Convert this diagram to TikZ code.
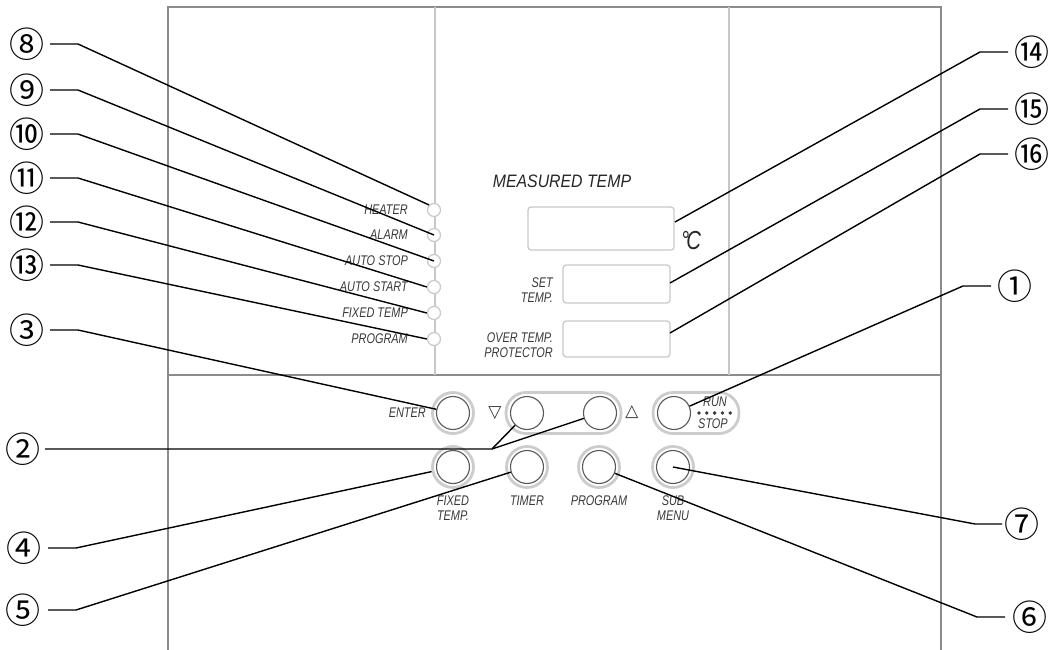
\documentclass[tikz,border=0pt]{standalone}
\usepackage{fontspec}
\setmainfont{Liberation Sans}
\newfontfamily\lbl[FakeStretch=0.78]{Liberation Sans}
\newfontfamily\lblw[FakeStretch=0.88]{Liberation Sans}
\newfontfamily\cjk{Noto Sans CJK JP}
\newfontfamily\dejavu{DejaVu Sans}
\definecolor{framec}{gray}{0.55}
\definecolor{innerc}{gray}{0.78}
\definecolor{txtc}{gray}{0.22}
\definecolor{ringc}{gray}{0.8}
\definecolor{btnc}{gray}{0.35}
\tikzset{
  num/.style={font=\cjk\fontsize{35}{35}\selectfont, inner sep=0pt},
  lead/.style={line width=1.4pt, black},
  lab/.style={font=\lbl\itshape\fontsize{14}{15}\selectfont, text=txtc, inner sep=0pt},
  ledc/.style={circle, draw=ringc, line width=1.3pt, fill=white, minimum size=13pt, inner sep=0pt},
  keyc/.style={circle, draw=btnc, line width=1.1pt, minimum size=33pt, inner sep=0pt},
  haloc/.style={circle, draw=ringc, line width=2.8pt, minimum size=41pt, inner sep=0pt},
  capsc/.style={draw=ringc, line width=2.8pt, rounded corners=20pt, minimum height=41pt, inner sep=0pt},
  dispc/.style={draw=innerc, line width=1.2pt, rounded corners=3pt, inner sep=0pt},
  framel/.style={draw=framec, line width=1.2pt},
  innerl/.style={draw=innerc, line width=1.1pt}
}
\begin{document}
\begin{tikzpicture}[x=1pt,y=-1pt]
\useasboundingbox (0,0) rectangle (1050,650);
% panel frame
\draw[framel] (168,650) -- (168,7) -- (941,7) -- (941,650);
\draw[framel] (168,375) -- (941,375);
\draw[innerl] (435,7) -- (435,375);
\draw[innerl] (729,7) -- (729,375);
% LEDs
\node[ledc] (led1) at (434,210) {};
\node[ledc] (led2) at (434,235) {};
\node[ledc] (led3) at (434,261) {};
\node[ledc] (led4) at (434,287) {};
\node[ledc] (led5) at (434,313) {};
\node[ledc] (led6) at (434,339) {};
\node[lab, anchor=east] (l1) at (408,210) {HEATER};
\node[lab, anchor=east] (l2) at (408,235) {ALARM};
\node[lab, anchor=east] (l3) at (408,261) {AUTO STOP};
\node[lab, anchor=east] (l4) at (408,287) {AUTO START};
\node[lab, anchor=east] (l5) at (408,313) {FIXED TEMP};
\node[lab, anchor=east] (l6) at (408,339) {PROGRAM};
% displays
\node[font=\lblw\itshape\fontsize{18}{18}\selectfont, text=black!85, inner sep=0pt] (mt) at (562,181) {MEASURED TEMP};
\node[dispc, minimum width=146pt, minimum height=43pt] (dMeas) at (601,228.5) {};
\node[dispc, minimum width=107pt, minimum height=38pt] (dSet) at (616.5,284) {};
\node[dispc, minimum width=107pt, minimum height=36pt] (dOver) at (616.5,339) {};
\node[font=\lbl\itshape\fontsize{26}{26}\selectfont, text=black!85, inner sep=0pt] (degc) at (691,241) {°\kern-3pt C};
\node[lab, anchor=east, align=right] (lset) at (553,290) {SET\\TEMP.};
\node[lab, anchor=east, align=right] (lover) at (553,345) {OVER TEMP.\\PROTECTOR};
% buttons
\node[haloc] (hEnter) at (453,413) {};
\node[capsc, minimum width=115pt] (capUD) at (563.5,413) {};
\node[capsc, minimum width=86pt] (capRun) at (696,413) {};
\node[haloc] (hFixed) at (453,467) {};
\node[haloc] (hTimer) at (527,467) {};
\node[haloc] (hProg) at (599,467) {};
\node[haloc] (hSub) at (673,467) {};
\node[keyc] (bEnter) at (453,413) {};
\node[keyc] (bDown) at (527,413) {};
\node[keyc] (bUp) at (600,413) {};
\node[keyc] (bRun) at (674,413) {};
\node[keyc] (bFixed) at (453,467) {};
\node[keyc] (bTimer) at (527,467) {};
\node[keyc] (bProg) at (599,467) {};
\node[keyc] (bSub) at (673,467) {};
\node[font=\dejavu\fontsize{17}{17}\selectfont, text=txtc, inner sep=0pt] (tDown) at (495,413) {▽};
\node[font=\dejavu\fontsize{17}{17}\selectfont, text=txtc, inner sep=0pt] (tUp) at (632,412) {△};
\node[lab, anchor=east] (lEnter) at (426,413) {ENTER};
\node[lab] (lRun) at (715,402) {RUN};
\node[lab] (lStop) at (713,424) {STOP};
\foreach \i in {0,...,4} \fill[txtc] (699+7.8*\i,413) circle (1.9pt);
\node[lab, align=center] (lFixed) at (453,508) {FIXED\\TEMP.};
\node[lab] (lTimer) at (527,501) {TIMER};
\node[lab] (lProg) at (599,501) {PROGRAM};
\node[lab, align=center] (lSub) at (673,508) {SUB\\MENU};
% callout numbers
\node[num] (n8) at (27,44) {⑧};
\node[num] (n9) at (27,90) {⑨};
\node[num] (n10) at (27,134) {⑩};
\node[num] (n11) at (27,178) {⑪};
\node[num] (n12) at (27,222) {⑫};
\node[num] (n13) at (27,265) {⑬};
\node[num] (n3) at (27,330) {③};
\node[num] (n2) at (23,449) {②};
\node[num] (n4) at (24,548) {④};
\node[num] (n5) at (23,610) {⑤};
\node[num] (n14) at (1032,52) {⑭};
\node[num] (n15) at (1032,109) {⑮};
\node[num] (n16) at (1032,154) {⑯};
\node[num] (n1) at (1015,286) {①};
\node[num] (n7) at (1022,524) {⑦};
\node[num] (n6) at (1030,617) {⑥};
% leader coordinates
\foreach \n/\y in {8/44,9/90,10/134,11/178,12/222,13/265,3/330}{
  \coordinate (s\n) at (50,\y); \coordinate (k\n) at (78,\y);}
\coordinate (s2) at (45,449); \coordinate (k2) at (492,449);
\coordinate (s4) at (48,548); \coordinate (k4) at (76,548);
\coordinate (s5) at (48,610); \coordinate (k5) at (76,610);
\coordinate (s14) at (1008,52); \coordinate (k14) at (980,52);
\coordinate (s15) at (1008,109); \coordinate (k15) at (980,109);
\coordinate (s16) at (1008,154); \coordinate (k16) at (980,154);
\coordinate (s1) at (991,286); \coordinate (k1) at (963,286);
\coordinate (s7) at (1002,524); \coordinate (k7) at (975,524);
\coordinate (s6) at (1005,617); \coordinate (k6) at (977,617);
\coordinate (t14) at (675,222);
\coordinate (t15) at (670,283);
\coordinate (t16) at (670,333);
% leaders
\draw[lead] (s8) -- (k8) -- (led1.135);
\draw[lead] (s9) -- (k9) -- (led2.center);
\draw[lead] (s10) -- (k10) -- (led3.center);
\draw[lead] (s11) -- (k11) -- (led4.west);
\draw[lead] (s12) -- (k12) -- (led5.west);
\draw[lead] (s13) -- (k13) -- (led6.west);
\draw[lead] (s3) -- (k3) -- (bEnter);
\draw[lead] (s2) -- (k2) -- (bDown);
\draw[lead] (k2) -- (bUp);
\draw[lead] (s4) -- (k4) -- (hFixed);
\draw[lead] (s5) -- (k5) -- (bTimer);
\draw[lead] (s14) -- (k14) -- (t14);
\draw[lead] (s15) -- (k15) -- (t15);
\draw[lead] (s16) -- (k16) -- (t16);
\draw[lead] (s1) -- (k1) -- (bRun);
\draw[lead] (s7) -- (k7) -- (bSub.center);
\draw[lead] (s6) -- (k6) -- (bProg);
\end{tikzpicture}
\end{document}
